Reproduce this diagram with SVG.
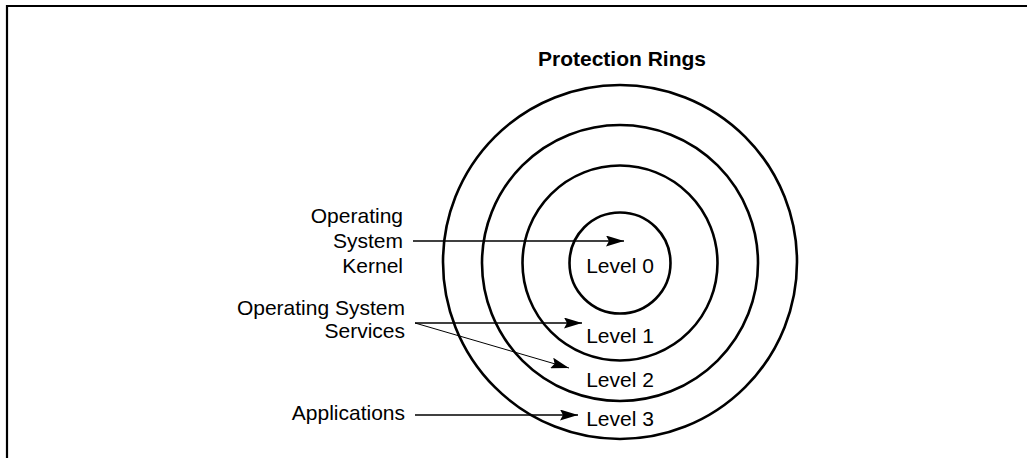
<svg xmlns="http://www.w3.org/2000/svg" width="1028" height="458" viewBox="0 0 1028 458">
<style>
.ring{fill:none;stroke:#000;stroke-width:2.6}
.t{font-family:"Liberation Sans",Arial,sans-serif;font-size:21px;fill:#000}
.lvl{text-anchor:middle}
.r{text-anchor:end}
.title{font-weight:bold;text-anchor:middle}
.c{stroke:#000;stroke-width:1.4;fill:none}
.thin{stroke-width:1}
</style>
<defs>
<marker id="ah" markerUnits="userSpaceOnUse" viewBox="0 0 18 11" refX="18" refY="5.5" markerWidth="18" markerHeight="11" orient="auto">
<path d="M0,0 L18,5.5 L0,11 L3,5.5 Z" fill="#000"/>
</marker>
</defs>
<rect width="1028" height="458" fill="#fff"/>
<g id="frame"><path d="M7,458 V6 H1027" fill="none" stroke="#000" stroke-width="2.2"/></g>
<g id="title"><text class="t title" x="622" y="66">Protection Rings</text></g>
<g id="level3"><circle class="ring" cx="620" cy="262" r="177"/><text class="t lvl" x="620" y="426">Level 3</text></g>
<g id="level2"><circle class="ring" cx="620" cy="263" r="138"/><text class="t lvl" x="620" y="387">Level 2</text></g>
<g id="level1"><circle class="ring" cx="620" cy="263" r="97.5"/><text class="t lvl" x="620" y="343">Level 1</text></g>
<g id="level0"><circle class="ring" cx="620" cy="263" r="50.5"/><text class="t lvl" x="620" y="273">Level 0</text></g>
<g id="kernel"><text class="t r" x="403"><tspan x="403" y="223">Operating</tspan><tspan x="403" y="248">System</tspan><tspan x="403" y="273">Kernel</tspan></text></g>
<g id="services"><text class="t r" x="405"><tspan x="405" y="315">Operating System</tspan><tspan x="405" y="338">Services</tspan></text></g>
<g id="applications"><text class="t r" x="405" y="420">Applications</text></g>
<g id="connectors">
<line class="c" x1="413" y1="241" x2="624" y2="241" marker-end="url(#ah)"/>
<line class="c" x1="415" y1="323" x2="582" y2="323" marker-end="url(#ah)"/>
<line class="c thin" x1="415" y1="323" x2="569" y2="368" marker-end="url(#ah)"/>
<line class="c" x1="415" y1="415" x2="578" y2="415" marker-end="url(#ah)"/>
</g>
</svg>
